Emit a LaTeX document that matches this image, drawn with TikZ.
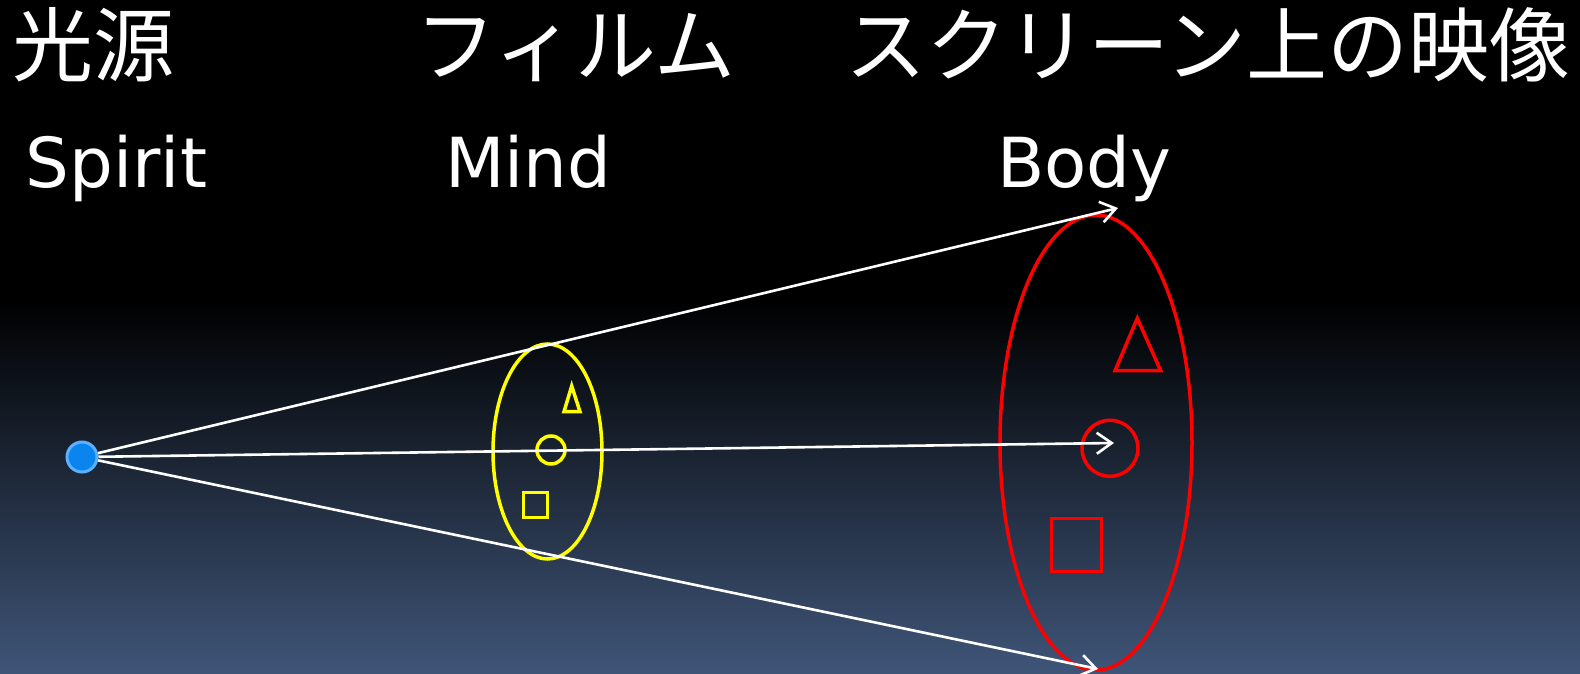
\documentclass[tikz,border=0pt]{standalone}
\usepackage{fontspec}
\setmainfont{DejaVu Sans}
\newfontfamily\jp{Noto Sans CJK JP}
\usetikzlibrary{arrows.meta}
\definecolor{bgbot}{RGB}{63,85,120}
\definecolor{dotfill}{RGB}{10,132,238}
\definecolor{dotedge}{RGB}{92,176,255}
\definecolor{ylw}{RGB}{255,255,0}
\definecolor{rd}{RGB}{255,0,0}
\tikzset{
  ray/.style={draw=white, line width=2.6pt, -{Straight Barb[length=15pt,width=21pt]}},
  jptext/.style={text=white, anchor=base west, inner sep=0pt, font=\jp\fontsize{81}{92}\selectfont},
  entext/.style={text=white, anchor=base west, inner sep=0pt, font=\fontsize{69}{80}\selectfont},
  film/.style={draw=ylw, line width=3.5pt},
  screen/.style={draw=rd, line width=3.5pt},
}
\begin{document}
\begin{tikzpicture}[x=1pt, y=-1pt]
\useasboundingbox (0,0) rectangle (1580,674);
\fill[black] (0,0) rectangle (1580,302);
\shade[top color=black, bottom color=bgbot] (0,300) rectangle (1580,674);

% titles
\node[jptext] (t1) at (12,76) {光源};
\node[jptext] (t2) at (415,76) {フィルム};
\node[jptext] (t3) at (845,76) {スクリーン上の映像};
\node[entext] (e1) at (25.5,187) {Spirit};
\node[entext] (e2) at (445,187) {Mind};
\node[entext] (e3) at (997,187) {Body};

% film (yellow)
\draw[film] (547.5,451.5) ellipse [x radius=54.5, y radius=107.5];
\draw[film] (564,411.7) -- (580,411.7) -- (571.7,386) -- cycle;
\draw[film] (551,450) circle [radius=14];
\draw[film] (523.5,492.7) rectangle (547.5,517.5);

% screen (red)
\draw[screen] (1096,442.5) ellipse [x radius=96, y radius=227.5];
\draw[screen] (1115,370.7) -- (1160.7,370.7) -- (1137.3,318.3) -- cycle;
\draw[screen] (1110,448.3) circle [radius=28];
\draw[screen] (1051.7,518.3) rectangle (1101.7,571.7);

% light source
\node[circle, minimum size=30pt, inner sep=0pt, fill=dotfill, draw=dotedge, line width=3pt] (dot) at (82,457) {};
\coordinate (a1) at (1118,208);
\coordinate (a2) at (1114,443);
\coordinate (a3) at (1098,669);
\draw[ray] (dot) -- (a1);
\draw[ray] (dot) -- (a2);
\draw[ray] (dot) -- (a3);
\end{tikzpicture}
\end{document}
